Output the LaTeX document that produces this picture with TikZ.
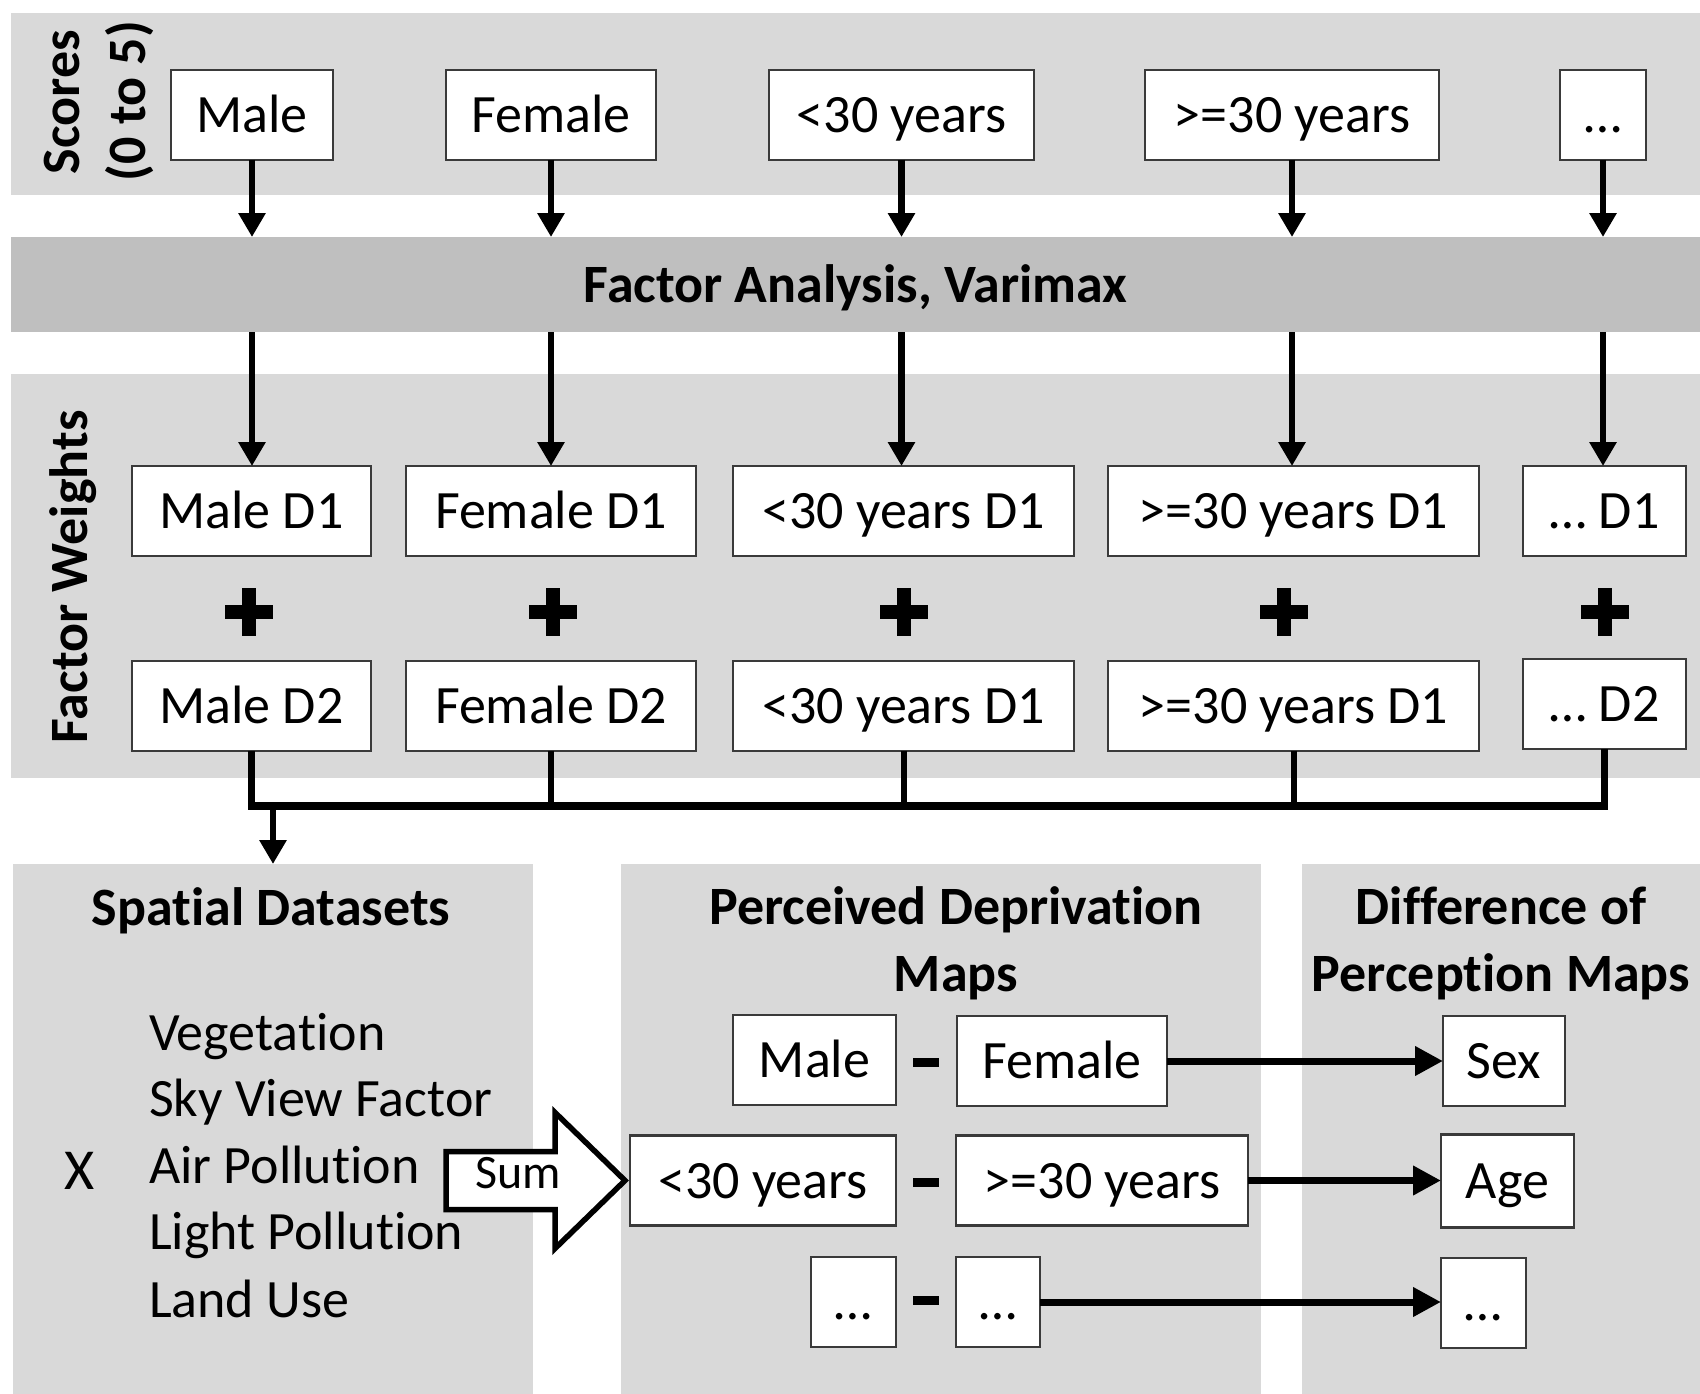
\documentclass[tikz,border=0pt]{standalone}
\usepackage{fontspec}
\setmainfont{Carlito}[Ligatures=NoCommon]
\usetikzlibrary{arrows.meta}
\definecolor{bandgray}{HTML}{D9D9D9}
\definecolor{midgray}{HTML}{BFBFBF}
\definecolor{boxline}{HTML}{3A3A3A}
\newcommand{\bigfnt}{\fontsize{54pt}{66.7pt}\selectfont}
\newcommand{\sumfnt}{\fontsize{48pt}{54pt}\selectfont}
\tikzset{
  every node/.style={font=\bigfnt, inner sep=0pt, outer sep=0pt},
  band/.style={fill=bandgray, anchor=north west},
  faband/.style={fill=midgray, anchor=north west, font=\bigfnt\bfseries, text height=35pt, text depth=0pt},
  wbox/.style={draw=boxline, line width=2.5pt, fill=white, minimum height=90pt, text height=35pt, text depth=0pt},
  sidelabel/.style={rotate=90, anchor=base, font=\bigfnt\bfseries},
  ptitle/.style={font=\bigfnt\bfseries, text height=35pt, text depth=0pt},
  arr/.style={line width=6.5pt, -{Triangle[length=24pt,width=26pt]}},
  arrb/.style={line width=7pt, -{Triangle[length=28pt,width=28pt]}},
  busline/.style={line width=7.5pt, line join=miter},
  stub/.style={line width=6pt},
  plussign/.style={minimum size=48pt, path picture={
    \fill[black] ([xshift=-24pt,yshift=-7pt]path picture bounding box.center) rectangle ([xshift=24pt,yshift=7pt]path picture bounding box.center);
    \fill[black] ([xshift=-7pt,yshift=-24pt]path picture bounding box.center) rectangle ([xshift=7pt,yshift=24pt]path picture bounding box.center);}},
  minussign/.style={fill=black, minimum width=26pt, minimum height=9pt},
  sumarrow/.style={draw=black, line width=5.5pt, fill=white, line join=miter},
}
\begin{document}
\begin{tikzpicture}[x=1pt,y=-1pt]
\useasboundingbox (0,0) rectangle (1700,1394);

% bands
\node[band, minimum width=1689pt, minimum height=182pt] (scb) at (11,13) {};
\node[faband, minimum width=1689pt, minimum height=95pt] (fa) at (11,237) {Factor Analysis, Varimax};
\node[band, minimum width=1689pt, minimum height=404pt] (fwb) at (11,374) {};
\node[band, minimum width=520pt, minimum height=530pt] (sp) at (13,864) {};
\node[band, minimum width=640pt, minimum height=530pt] (pd) at (621,864) {};
\node[band, minimum width=398pt, minimum height=530pt] (df) at (1302,864) {};

% side labels
\node[sidelabel] (scl1) at (79,102) {Scores};
\node[sidelabel] (scl2) at (145,101) {(0 to 5)};
\node[sidelabel] (fwl) at (87,577) {Factor Weights};

% top row
\node[wbox, minimum width=162pt] (s1) at (252,115) {Male};
\node[wbox, minimum width=210pt] (s2) at (551,115) {Female};
\node[wbox, minimum width=265pt] (s3) at (901.5,115) {<30 years};
\node[wbox, minimum width=294pt] (s4) at (1292,115) {>=30 years};
\node[wbox, minimum width=86pt] (s5) at (1603,115) {…};

% D1 row
\node[wbox, minimum width=239pt] (a1) at (251.5,511) {Male D1};
\node[wbox, minimum width=290pt] (a2) at (551,511) {Female D1};
\node[wbox, minimum width=341pt] (a3) at (903.5,511) {<30 years D1};
\node[wbox, minimum width=371pt] (a4) at (1293.5,511) {>=30 years D1};
\node[wbox, minimum width=163pt] (a5) at (1604.5,511) {… D1};

% plus signs
\node[plussign] (p1) at (249,612) {};
\node[plussign] (p2) at (553,612) {};
\node[plussign] (p3) at (904,612) {};
\node[plussign] (p4) at (1284,612) {};
\node[plussign] (p5) at (1605,612) {};

% D2 row
\node[wbox, minimum width=239pt] (b1) at (251.5,706) {Male D2};
\node[wbox, minimum width=290pt] (b2) at (551,706) {Female D2};
\node[wbox, minimum width=341pt] (b3) at (903.5,706) {<30 years D1};
\node[wbox, minimum width=371pt] (b4) at (1293.5,706) {>=30 years D1};
\node[wbox, minimum width=163pt] (b5) at (1604.5,704) {… D2};

% arrows top -> factor analysis -> D1
\foreach \i in {1,...,5}{
  \draw[arr] (s\i.south) -- (s\i.south |- fa.north);
  \draw[arr] (s\i.south |- fa.south) -- (s\i.south |- a\i.north);
}

% bus
\coordinate (busc) at (0,806);
\draw[busline] (b1.south) |- (b5.south |- busc) -- (b5.south);
\draw[stub] (b2.south) -- (b2.south |- busc);
\draw[stub] (b3.south) -- (b3.south |- busc);
\draw[stub] (b4.south) -- (b4.south |- busc);
\draw[arr] (sp.north |- busc) -- (sp.north);

% panel titles
\node[ptitle] (spt) at (271,908) {Spatial Datasets};
\node[ptitle] (pdt1) at (956,907) {Perceived Deprivation};
\node[ptitle] (pdt2) at (956,974) {Maps};
\node[ptitle] (dft1) at (1501,907) {Difference of};
\node[ptitle] (dft2) at (1501,974) {Perception Maps};

% spatial list
\node[anchor=base west] (l1) at (149,1050) {Vegetation};
\node[anchor=base west] (l2) at (149,1116) {Sky View Factor};
\node[anchor=base west] (l3) at (149,1183) {Air Pollution};
\node[anchor=base west] (l4) at (149,1249) {Light Pollution};
\node[anchor=base west] (l5) at (149,1317) {Land Use};
\node[anchor=base, font=\fontsize{58pt}{66pt}\selectfont] (xm) at (80,1189) {X};

% perceived deprivation maps
\node[wbox, minimum width=163pt] (m1a) at (814.5,1060) {Male};
\node[wbox, minimum width=210pt] (m1b) at (1062,1061) {Female};
\node[wbox, minimum width=266pt] (m2a) at (763,1180.5) {<30 years};
\node[wbox, minimum width=292pt] (m2b) at (1102,1180.5) {>=30 years};
\node[wbox, minimum width=85pt] (m3a) at (853.5,1302) {…};
\node[wbox, minimum width=84pt] (m3b) at (998,1302) {…};
\node[minussign] (mn1) at (926,1062) {};
\node[minussign] (mn2) at (926,1182) {};
\node[minussign] (mn3) at (926,1300) {};

% difference maps
\node[wbox, minimum width=122pt] (d1) at (1504,1061) {Sex};
\node[wbox, minimum width=133pt, minimum height=93pt] (d2) at (1507.5,1181) {Age};
\node[wbox, minimum width=85pt] (d3) at (1483.5,1303) {…};

\draw[arrb] (m1b.east) -- (m1b.east -| d1.west);
\draw[arrb] (m2b.east) -- (m2b.east -| d2.west);
\draw[arrb] (m3b.east) -- (m3b.east -| d3.west);

% sum arrow
\draw[sumarrow] ([xshift=-5pt]m2a.west) -- ++(-70,-68) -- ++(0,39) -- ++(-109,0) -- ++(0,58) -- ++(109,0) -- ++(0,39) -- cycle;
\node[font=\sumfnt, text height=30pt, text depth=0pt] (sumt) at (518,1173) {Sum};
\end{tikzpicture}
\end{document}
